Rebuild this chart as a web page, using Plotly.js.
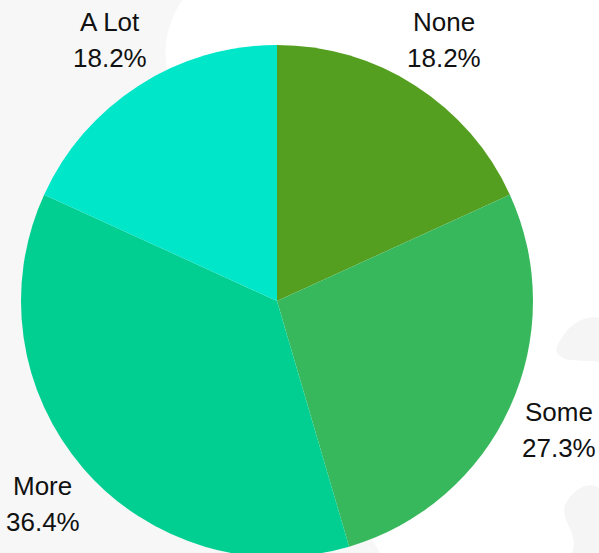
<!DOCTYPE html>
<html>
<head>
<meta charset="utf-8">
<script src="https://cdn.plot.ly/plotly-3.0.1.min.js"></script>
<style>
html,body{margin:0;padding:0;overflow:hidden;background:#f7f7f7;}
#chart{width:599px;height:557px;}
</style>
</head>
<body>
<div id="chart"></div>
<script>
const categories = ["None", "Some", "More", "A Lot"];
const counts = [2, 3, 4, 2];
const sliceColors = ["#549f1f", "#38b85c", "#00cf91", "#00e6c9"];

const W = 599, H = 557;
const CX = 277, CY = 301, R = 256, LABEL_R = 1.21 * R;
function px(x, y) { return (x / W).toFixed(4) + "," + (1 - y / H).toFixed(4); }

const bgShapes = [
  {
    type: "path", xref: "paper", yref: "paper", layer: "below",
    path: "M" + px(182, 0) + " C" + px(170, 20) + " " + px(162, 40) + " " + px(167, 70) +
          " L" + px(175, 200) + " L" + px(380, 553) + " L" + px(599, 557) + " L" + px(599, 0) + " Z",
    fillcolor: "#ffffff", line: { width: 0 }
  },
  {
    type: "path", xref: "paper", yref: "paper", layer: "below",
    path: "M" + px(556, 350) + " C" + px(566, 322) + " " + px(588, 315) + " " + px(599, 318) +
          " L" + px(599, 362) + " C" + px(585, 358) + " " + px(562, 366) + " " + px(556, 350) + " Z",
    fillcolor: "#f5f5f5", line: { width: 0 }
  },
  {
    type: "path", xref: "paper", yref: "paper", layer: "below",
    path: "M" + px(565, 505) + " C" + px(575, 485) + " " + px(592, 482) + " " + px(599, 488) +
          " L" + px(599, 553) + " L" + px(572, 553) + " C" + px(580, 533) + " " + px(560, 522) + " " + px(565, 505) + " Z",
    fillcolor: "#f5f5f5", line: { width: 0 }
  }
];

// label annotations placed at each slice's mid-angle, computed from the data
const total = counts.reduce((a, b) => a + b, 0);
const annotations = [];
let cum = 0;
counts.forEach((v, i) => {
  const mid = (cum + v / 2) / total * 2 * Math.PI;
  cum += v;
  const lx = CX + LABEL_R * Math.sin(mid);
  const ly = CY - LABEL_R * Math.cos(mid);
  const pct = (v / total * 100).toFixed(1) + "%";
  const base = {
    xref: "paper", yref: "paper", x: lx / W, y: 1 - ly / H,
    xanchor: "center", yanchor: "middle", showarrow: false,
    font: { family: "Liberation Sans, Arial, sans-serif", size: 26, color: "#111111" }
  };
  annotations.push(Object.assign({}, base, { text: categories[i], yshift: 18 }));
  annotations.push(Object.assign({}, base, { text: pct, yshift: -18 }));
});

const data = [{
  type: "pie",
  labels: categories,
  values: counts,
  sort: false,
  direction: "clockwise",
  rotation: 0,
  marker: { colors: sliceColors, line: { width: 0 } },
  textinfo: "none",
  hoverinfo: "none",
  domain: { x: [(CX - R) / W, (CX + R) / W], y: [1 - (CY + R) / H, 1 - (CY - R) / H] },
  showlegend: false
}];

const layout = {
  width: W, height: H,
  margin: { l: 0, r: 0, t: 0, b: 0 },
  paper_bgcolor: "#f7f7f7",
  plot_bgcolor: "#f7f7f7",
  font: { family: "Liberation Sans, Arial, sans-serif", size: 26, color: "#111111" },
  shapes: bgShapes,
  annotations: annotations
};

Plotly.newPlot("chart", data, layout, { displayModeBar: false, staticPlot: true });
</script>
</body>
</html>
